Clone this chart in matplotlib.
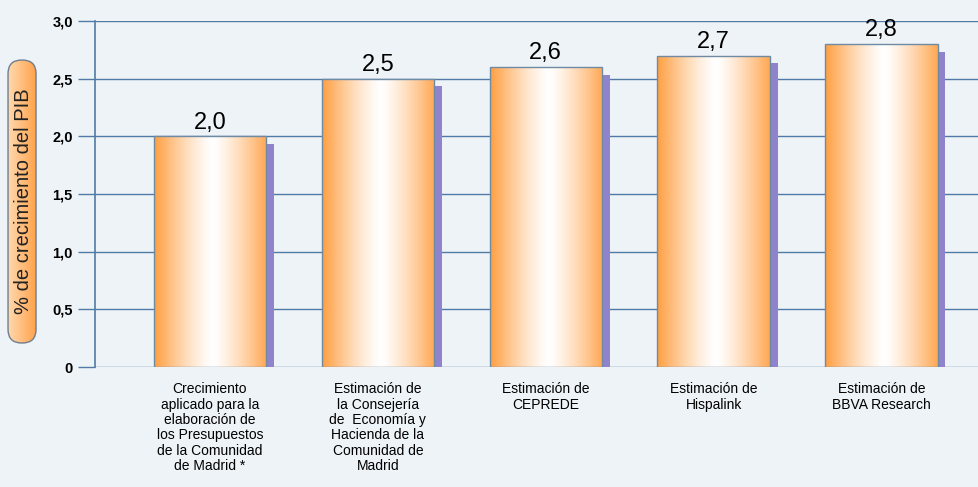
import numpy as np
import matplotlib.pyplot as plt
from matplotlib.patches import Rectangle, FancyBboxPatch

plt.rcParams['font.family'] = ['Liberation Sans', 'DejaVu Sans']

categories = ['Crecimiento\naplicado para la\nelaboración de\nlos Presupuestos\nde la Comunidad\nde Madrid *',
              'Estimación de\nla Consejería\nde  Economía y\nHacienda de la\nComunidad de\nMadrid',
              'Estimación de\nCEPREDE',
              'Estimación de\nHispalink',
              'Estimación de\nBBVA Research']
values = [2.0, 2.5, 2.6, 2.7, 2.8]
yticks = [0, 0.5, 1.0, 1.5, 2.0, 2.5, 3.0]
ytick_labels = ['0', '0,5', '1,0', '1,5', '2,0', '2,5', '3,0']

bg = '#EEF3F7'
grid_col = '#4F7BA6'

fig = plt.figure(figsize=(9.79, 4.87), dpi=100)
fig.patch.set_facecolor(bg)
ax = fig.add_axes([0.097, 0.2464, 0.903, 0.7105])
ax.set_facecolor(bg)

ax.set_xlim(-0.685, 4.58)
ax.set_ylim(0, 3.0)

for y in yticks:
    ax.axhline(y, color=grid_col, lw=1.0, zorder=1)

# gradient orange -> white -> orange
g = np.linspace(0, 1, 256)
d = np.abs(g - 0.52) / 0.52
d = np.clip(d, 0, 1) ** 1.3
orange = np.array([1.0, 0.62, 0.25])
white = np.array([1.0, 1.0, 1.0])
grad = white[None, :] * (1 - d[:, None]) + orange[None, :] * d[:, None]
grad = grad[None, :, :]

w = 0.67
sh_w = 0.045
sh_drop = 0.065
for i, v in enumerate(values):
    x0 = i - w / 2
    # shadow
    ax.add_patch(Rectangle((x0 + w, 0), sh_w, v - sh_drop, facecolor='#8F84CC',
                           edgecolor='none', zorder=2))
    im = ax.imshow(grad, extent=(x0, x0 + w, 0, v), aspect='auto', zorder=3,
                   interpolation='bilinear')
    r = Rectangle((x0, 0), w, v, facecolor='none', edgecolor='#6F8AA3', lw=1.0, zorder=4)
    ax.add_patch(r)
    im.set_clip_path(r)
    ax.annotate(f'{v:.1f}'.replace('.', ','), (i, v), xytext=(0, 2), textcoords='offset points',
                ha='center', va='bottom', fontsize=17, color='black', zorder=5)

ax.set_xticks(range(len(categories)))
ax.set_xticklabels(categories, fontsize=10, linespacing=1.12, va='top')
ax.tick_params(axis='x', length=0, pad=11)
ax.set_yticks(yticks)
ax.set_yticklabels(ytick_labels, fontsize=10.5, fontweight='bold')
ax.tick_params(axis='y', length=12, width=1.0, color=grid_col, pad=4)

for s in ['top', 'right', 'bottom']:
    ax.spines[s].set_visible(False)
ax.spines['left'].set_color(grid_col)
ax.spines['left'].set_linewidth(1.2)

# y label in rounded orange box
bx, by, bw, bh = 0.0082, 0.2957, 0.0286, 0.581
lax = fig.add_axes([bx - 0.003, by - 0.006, bw + 0.006, bh + 0.012])
lax.set_xlim(bx - 0.003, bx + bw + 0.003)
lax.set_ylim(by - 0.006, by + bh + 0.006)
lax.axis('off')
box = FancyBboxPatch((bx, by), bw, bh, boxstyle='round,pad=0,rounding_size=0.014',
                     mutation_aspect=2.0, facecolor='none', edgecolor='#6E7E90', lw=1.0, zorder=3)
lax.add_patch(box)
gb = np.linspace(0, 1, 64)
lo = np.array([1.0, 0.85, 0.68])
hi = np.array([1.0, 0.64, 0.30])
bgrad = (lo[None, :] * (1 - gb[:, None]) + hi[None, :] * gb[:, None])[None, :, :]
bim = lax.imshow(bgrad, extent=(bx, bx + bw, by, by + bh), aspect='auto', zorder=2)
bim.set_clip_path(box)
fig.text(0.0235, 0.586, '% de crecimiento del PIB', rotation=90, ha='center', va='center',
         fontsize=14.5, color='#222222')

fig.savefig('out.png', dpi=100, facecolor=bg)
